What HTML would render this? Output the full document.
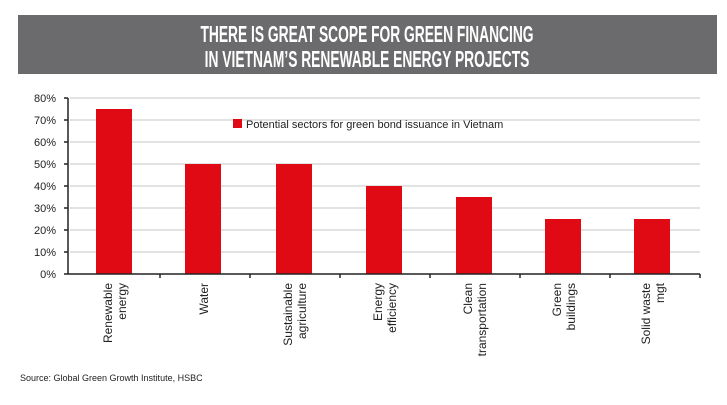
<!DOCTYPE html>
<html><head><style>
body{margin:0;background:#fff;width:727px;height:400px;overflow:hidden;font-family:"Liberation Sans",sans-serif}
</style></head><body>
<svg width="727" height="400" xmlns="http://www.w3.org/2000/svg">
<rect x="18" y="15" width="699" height="59" fill="#6b6b6d"/>
<g font-family="Liberation Sans Narrow, Liberation Sans, sans-serif" font-weight="bold" fill="#fff" font-size="23" text-anchor="middle" transform="translate(367,0) scale(0.6,1)">
<text x="0" y="42">THERE IS GREAT SCOPE FOR GREEN FINANCING</text>
<text x="0" y="67">IN VIETNAM’S RENEWABLE ENERGY PROJECTS</text>
</g>
<g stroke="#d8d8d8" stroke-width="1.5">
<line x1="70" x2="700" y1="98" y2="98"/><line x1="70" x2="700" y1="120" y2="120"/>
<line x1="70" x2="700" y1="142" y2="142"/><line x1="70" x2="700" y1="164" y2="164"/>
<line x1="70" x2="700" y1="186" y2="186"/><line x1="70" x2="700" y1="208" y2="208"/>
<line x1="70" x2="700" y1="230" y2="230"/><line x1="70" x2="700" y1="252" y2="252"/>
</g>
<g fill="#e00a14">
<rect x="96" y="109" width="36" height="165"/>
<rect x="185" y="164" width="36" height="110"/>
<rect x="276" y="164" width="36" height="110"/>
<rect x="366" y="186" width="36" height="88"/>
<rect x="456" y="197" width="36" height="77"/>
<rect x="545" y="219" width="36" height="55"/>
<rect x="634" y="219" width="36" height="55"/>
<rect x="233" y="119" width="9" height="9"/>
</g>
<text x="246" y="128" font-size="11" fill="#222">Potential sectors for green bond issuance in Vietnam</text>
<g stroke="#222" stroke-width="1.5">
<line x1="68" y1="98" x2="68" y2="274"/><line x1="68" y1="274" x2="700" y2="274"/>
<line x1="64" x2="68" y1="98" y2="98"/><line x1="64" x2="68" y1="120" y2="120"/><line x1="64" x2="68" y1="142" y2="142"/><line x1="64" x2="68" y1="164" y2="164"/><line x1="64" x2="68" y1="186" y2="186"/><line x1="64" x2="68" y1="208" y2="208"/><line x1="64" x2="68" y1="230" y2="230"/><line x1="64" x2="68" y1="252" y2="252"/><line x1="64" x2="68" y1="274" y2="274"/>
<line x1="160" x2="160" y1="274" y2="278"/><line x1="250" x2="250" y1="274" y2="278"/><line x1="340" x2="340" y1="274" y2="278"/><line x1="430" x2="430" y1="274" y2="278"/><line x1="520" x2="520" y1="274" y2="278"/><line x1="610" x2="610" y1="274" y2="278"/><line x1="700" x2="700" y1="274" y2="278"/>
</g>
<g font-size="11" fill="#222" text-anchor="end">
<text x="56" y="102">80%</text><text x="56" y="124">70%</text><text x="56" y="146">60%</text><text x="56" y="168">50%</text><text x="56" y="190">40%</text><text x="56" y="212">30%</text><text x="56" y="234">20%</text><text x="56" y="256">10%</text><text x="56" y="278">0%</text>
</g>
<g font-size="12" fill="#222" text-anchor="end">
<text transform="translate(112,283) rotate(-90)">Renewable</text><text transform="translate(126,283) rotate(-90)">energy</text>
<text transform="translate(208,283) rotate(-90)">Water</text>
<text transform="translate(292,283) rotate(-90)">Sustainable</text><text transform="translate(306,283) rotate(-90)">agriculture</text>
<text transform="translate(382,283) rotate(-90)">Energy</text><text transform="translate(396,283) rotate(-90)">efficiency</text>
<text transform="translate(472,283) rotate(-90)">Clean</text><text transform="translate(486,283) rotate(-90)">transportation</text>
<text transform="translate(561,283) rotate(-90)">Green</text><text transform="translate(575,283) rotate(-90)">buildings</text>
<text transform="translate(650,283) rotate(-90)">Solid waste</text><text transform="translate(664,283) rotate(-90)">mgt</text>
</g>
<text x="20" y="381" font-size="9" fill="#222">Source: Global Green Growth Institute, HSBC</text>
</svg>
</body></html>
